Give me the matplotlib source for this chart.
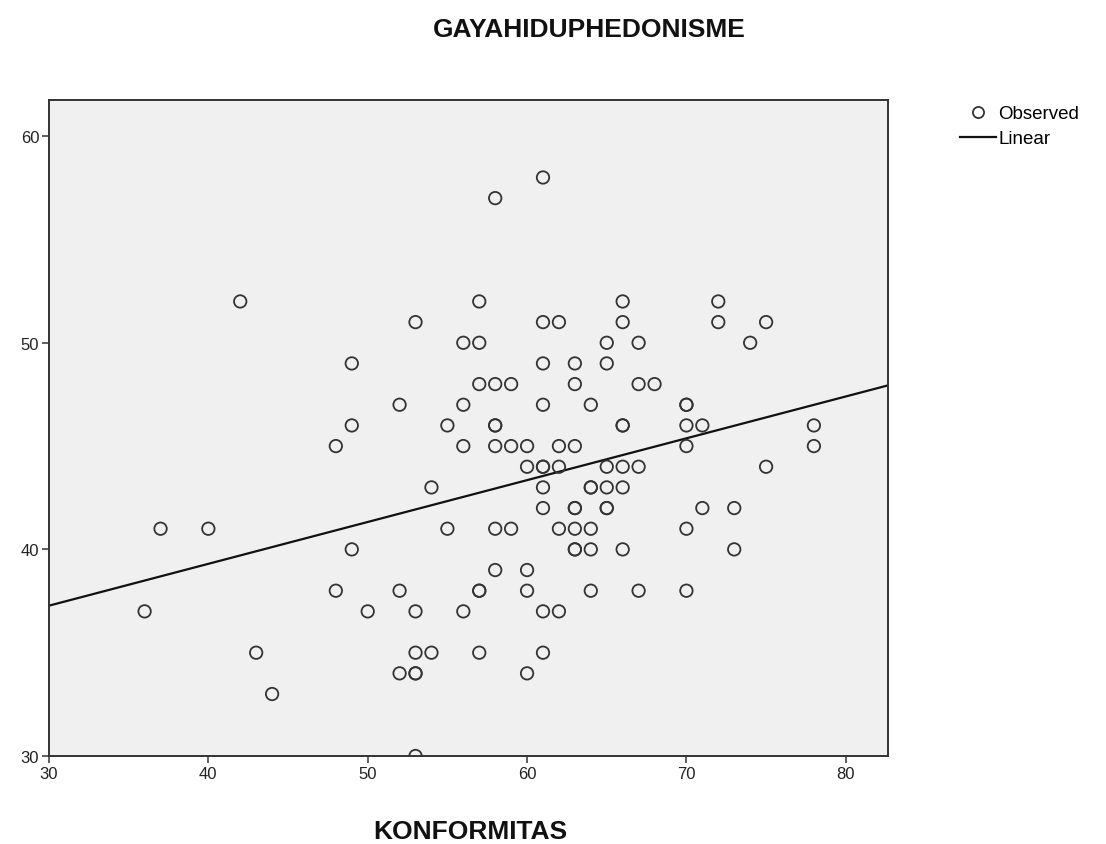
import matplotlib
matplotlib.use("Agg")
import matplotlib.pyplot as plt
import numpy as np
from matplotlib.lines import Line2D

plt.rcParams['font.family'] = ['Liberation Sans', 'DejaVu Sans']

# KONFORMITAS (x) vs GAYAHIDUPHEDONISME (y), observed points
konformitas = [36, 37, 40, 42, 43, 44, 48, 48, 49, 49, 49, 50, 52, 52, 52,
               53, 53, 53, 53, 53, 53, 54, 54, 55, 55, 56, 56, 56, 56,
               57, 57, 57, 57, 57, 57, 58, 58, 58, 58, 58, 58, 58,
               59, 59, 59, 60, 60, 60, 60, 60,
               61, 61, 61, 61, 61, 61, 61, 61, 61, 61,
               62, 62, 62, 62, 62, 63, 63, 63, 63, 63, 63, 63, 63,
               64, 64, 64, 64, 64, 64, 65, 65, 65, 65, 65, 65,
               66, 66, 66, 66, 66, 66, 66, 67, 67, 67, 67, 68,
               70, 70, 70, 70, 70, 70, 71, 71, 72, 72, 73, 73, 74, 75, 75, 78, 78]
gayahidup = [37, 41, 41, 52, 35, 33, 45, 38, 49, 46, 40, 37, 47, 38, 34,
             51, 37, 35, 34, 34, 30, 43, 35, 46, 41, 50, 47, 45, 37,
             52, 50, 48, 38, 38, 35, 57, 48, 46, 46, 45, 41, 39,
             48, 45, 41, 45, 44, 39, 38, 34,
             58, 51, 49, 47, 44, 44, 43, 42, 37, 35,
             51, 45, 44, 41, 37, 49, 48, 45, 42, 42, 41, 40, 40,
             47, 43, 43, 41, 40, 38, 50, 49, 44, 43, 42, 42,
             52, 51, 46, 46, 44, 43, 40, 50, 48, 44, 38, 48,
             47, 47, 46, 45, 41, 38, 46, 42, 52, 51, 42, 40, 50, 51, 44, 46, 45]

x = np.array(konformitas, dtype=float)
y = np.array(gayahidup, dtype=float)
slope, intercept = np.polyfit(x, y, 1)

fig = plt.figure(figsize=(11.06, 8.45), dpi=100)
ax = fig.add_axes([49 / 1106, 1 - 757 / 845, (888 - 49) / 1106, (757 - 101) / 845])
ax.set_facecolor('#F0F0F0')

xlim = (30, 82.65)
ax.scatter(x, y, s=80, facecolors='none', edgecolors='#333333', linewidths=1.3, zorder=3)
xl = np.array(xlim)
ax.plot(xl, intercept + slope * xl, color='#111111', linewidth=1.6, zorder=2)

ax.set_xlim(*xlim)
ax.set_ylim(30, 61.75)
ax.set_xticks([30, 40, 50, 60, 70, 80])
ax.set_yticks([30, 40, 50, 60])
ax.tick_params(direction='out', length=5, width=1.2, color='#444444', labelsize=12,
               labelcolor='#222222', pad=2)
for s in ax.spines.values():
    s.set_linewidth(1.4)
    s.set_color('#333333')

fig.text(589 / 1106, 1 - 30 / 845, 'GAYAHIDUPHEDONISME', ha='center', va='center',
         fontsize=19, fontweight='bold', color='#111111')
fig.text(470 / 1106, 1 - 832 / 845, 'KONFORMITAS', ha='center', va='center',
         fontsize=19, fontweight='bold', color='#111111')

handles = [Line2D([], [], linestyle='none', marker='o', markersize=8, markerfacecolor='none',
                  markeredgecolor='#333333', markeredgewidth=1.3),
           Line2D([], [], color='#111111', linewidth=1.6)]
fig.legend(handles, ['Observed', 'Linear'], loc='upper left', bbox_to_anchor=(960 / 1106, 1 - 106 / 845),
           frameon=False, fontsize=13.5, handlelength=1.9, handletextpad=0.15, labelspacing=0.42,
           borderpad=0, borderaxespad=0)

fig.savefig('out.png', dpi=100)
